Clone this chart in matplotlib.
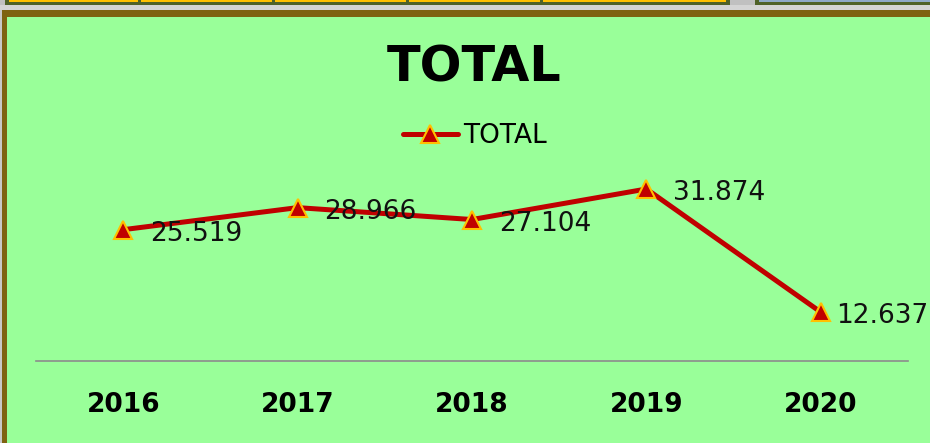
import matplotlib
matplotlib.use("Agg")
import matplotlib.pyplot as plt
from matplotlib.patches import Rectangle

years = ["2016", "2017", "2018", "2019", "2020"]
totals = [25.519, 28.966, 27.104, 31.874, 12.637]
series_name = "TOTAL"
title = "TOTAL"
label_texts = ["25.519", "28.966", "27.104", "31.874", "12.637"]

W, H = 930, 443
fig = plt.figure(figsize=(W / 100, H / 100), dpi=100)
fig.patch.set_facecolor("#C8C8C8")

def px_rect(x0, y0, x1, y1, z, **kw):
    # pixel coords from top-left
    r = Rectangle((x0 / W, 1 - y1 / H), (x1 - x0) / W, (y1 - y0) / H,
                  transform=fig.transFigure, zorder=z, **kw)
    fig.patches.append(r)

# background strip on top (cells of neighbouring elements)
px_rect(0, 5, 930, 10, -20, facecolor="#D4D4D4", edgecolor="none")
px_rect(0, 0, 930, 5, -20, facecolor="#C0C0C0", edgecolor="none")
px_rect(5, 0, 730, 5, -19, facecolor="#4F6228", edgecolor="none")
for a, b in [(9, 138), (141, 272), (275, 406), (409, 540), (543, 726)]:
    px_rect(a, 0, b, 1.5, -18, facecolor="#FFC000", edgecolor="none")
px_rect(755, 0, 930, 5, -19, facecolor="#4F6228", edgecolor="none")
px_rect(759, 0, 930, 1.5, -18, facecolor="#8EA9C8", edgecolor="none")

# chart area with olive border
px_rect(2, 10, 940, 453, -17, facecolor="#7E6311", edgecolor="none")
px_rect(7, 17, 940, 453, -16, facecolor="#99FF99", edgecolor="none")

ax = fig.add_axes([36 / W, 82 / H, 872 / W, 192 / H])
ax.set_facecolor("none")
x = list(range(len(years)))
ax.plot(x, totals, color="#C00000", lw=3.6, marker="^", markersize=12.5,
        markerfacecolor="#C00000", markeredgecolor="#FFC000", markeredgewidth=1.5,
        label=series_name, solid_capstyle="round", clip_on=False)
ax.set_xlim(-0.5, len(years) - 0.5)
ax.set_ylim(5, 35)
for s in ["top", "left", "right"]:
    ax.spines[s].set_visible(False)
ax.spines["bottom"].set_color("#8C8C8C")
ax.spines["bottom"].set_linewidth(1.2)
ax.set_yticks([])
ax.set_xticks(x)
ax.set_xticklabels(years, fontsize=19, fontweight="bold", color="black")
ax.tick_params(axis="x", length=0, pad=22)

offsets = [19.4, 19.4, 19.4, 19.4, 10.8]
for xi, yi, t, off in zip(x, totals, label_texts, offsets):
    ax.annotate(t, (xi, yi), xytext=(off, -3), textcoords="offset points",
                ha="left", va="center", fontsize=19, color="#111111",
                annotation_clip=False)

fig.text(474 / W, 1 - 82 / H, title, ha="center", va="baseline",
         fontsize=35.5, fontweight="bold", color="black")

leg = ax.legend(loc="center", bbox_to_anchor=(475 / W, 1 - 136 / H),
                bbox_transform=fig.transFigure, frameon=False, fontsize=19,
                handlelength=2.1, handletextpad=0.2, numpoints=1,
                borderpad=0, borderaxespad=0)

fig.savefig("out.png", dpi=100, facecolor=fig.get_facecolor())
